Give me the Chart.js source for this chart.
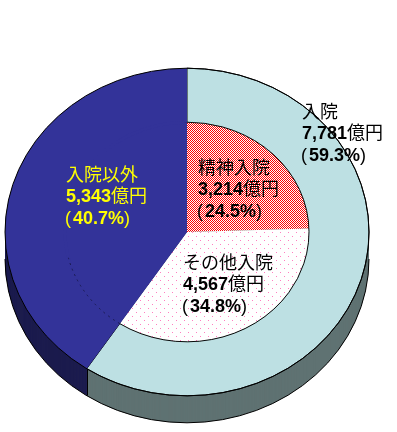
<!DOCTYPE html>
<html>
<head>
<meta charset="utf-8">
<script src="https://cdn.jsdelivr.net/npm/chart.js@4.4.1/dist/chart.umd.min.js"></script>
<style>
  html, body { margin: 0; padding: 0; background: #fff; }
  #pie { display: block; }
</style>
</head>
<body>
<canvas id="pie" width="397" height="432"></canvas>
<script>
// ---- data (億円) ----
const outerLabels = ['入院', '入院以外'];
const outerValues = [7781, 5343];
const outerPct = ['59.3%', '40.7%'];

const innerLabels = ['精神入院', 'その他入院', '入院以外'];
const innerValues = [3214, 4567, 5343];
const innerPct = ['24.5%', '34.8%', '40.7%'];

// ---- look ----
const SQUASH = 0.9;   // vertical squash of the pie top
const DEPTH = 27;     // thickness of the 3D side
const LIGHT = '#bde0e3';
const NAVY = '#333399';
const sideColors = ['#5f7272', '#1c1c4e'];

function makePattern(size, bg, fg, dots) {
    const c = document.createElement('canvas');
    c.width = c.height = size;
    const g = c.getContext('2d');
    g.fillStyle = bg;
    g.fillRect(0, 0, size, size);
    g.fillStyle = fg;
    dots.forEach(([x, y]) => g.fillRect(x, y, 1, 1));
    return g.createPattern(c, 'repeat');
}

// red/white checker and white with pink dots
const redCheck = makePattern(2, '#ffffff', '#ff0000', [[0, 0], [1, 1]]);
const pinkDots = makePattern(8, '#ffffff', '#ff80c0', [[0, 0], [4, 4]]);

// label placement: [x, y of first line], plus colours
const outerLabelPos = [[302, 111], [66, 174]];
const outerLabelColor = ['#000000', '#ffff00'];
const innerLabelPos = [[198, 167], [183, 262]];
const LINE_GAP = 21;

function drawParts(ctx, x, y, parts, color) {
    ctx.fillStyle = color;
    ctx.textBaseline = 'alphabetic';
    parts.forEach(([t, kind]) => {
        if (kind === 'b') ctx.font = 'bold 18px "Liberation Sans", Arial, sans-serif';
        else if (kind === 'p') ctx.font = '18px "Liberation Sans", Arial, sans-serif';
        else ctx.font = '18px "Noto Sans CJK JP", sans-serif';
        ctx.fillText(t, x, y + 6.5);
        x += ctx.measureText(t).width + (kind === 'p' ? 2 : 0);
    });
}

function drawLabel(ctx, pos, name, value, pct, color) {
    const [x, y] = pos;
    drawParts(ctx, x, y, [[name, 'k']], color);
    drawParts(ctx, x, y + LINE_GAP, [[value.toLocaleString('en-US'), 'b'], ['億円', 'k']], color);
    drawParts(ctx, x - 1, y + LINE_GAP * 2 + 1, [['(', 'p'], [pct, 'b'], [')', 'p']], color);
}

const pie3d = {
    id: 'pie3d',
    beforeDatasetsDraw(chart) {
        const ctx = chart.ctx;
        const arcs = chart.getDatasetMeta(0).data;
        const { x, y, outerRadius: R } = arcs[0];

        // keep the fill patterns on the device pixel grid under the squash
        const m = new DOMMatrix([1, 0, 0, 1 / SQUASH, 0, -(1 - SQUASH) * y / SQUASH]);
        redCheck.setTransform(m);
        pinkDots.setTransform(m);

        ctx.save();
        ctx.imageSmoothingEnabled = false;

        // side walls
        for (let d = DEPTH; d >= 1; d--) {
            arcs.forEach((a, i) => {
                ctx.beginPath();
                ctx.moveTo(x, y + d);
                ctx.ellipse(x, y + d, R, R * SQUASH, 0, a.startAngle, a.endAngle);
                ctx.closePath();
                ctx.fillStyle = sideColors[i];
                ctx.fill();
            });
        }
        ctx.strokeStyle = '#000';
        ctx.lineWidth = 1;
        ctx.beginPath();
        ctx.ellipse(x, y + DEPTH, R, R * SQUASH, 0, 0, Math.PI);
        ctx.stroke();
        arcs.forEach(a => {
            if (Math.sin(a.startAngle) > 0) {
                const px = Math.round(x + R * Math.cos(a.startAngle)) + 0.5;
                const py = y + R * SQUASH * Math.sin(a.startAngle);
                ctx.beginPath();
                ctx.moveTo(px, py);
                ctx.lineTo(px, py + DEPTH);
                ctx.stroke();
            }
        });

        // squash the pie top into an ellipse
        ctx.translate(x, y);
        ctx.scale(1, SQUASH);
        ctx.translate(-x, -y);
    },
    afterDatasetsDraw(chart) {
        const ctx = chart.ctx;
        ctx.restore();
        const arcs = chart.getDatasetMeta(0).data;
        const inner = chart.getDatasetMeta(1).data;
        const { x, y, outerRadius: R } = arcs[0];

        ctx.save();
        // cover the seam between the two navy pieces
        const r = inner[2].outerRadius;
        const a0 = inner[2].startAngle;
        const a1 = inner[2].endAngle;
        ctx.strokeStyle = NAVY;
        ctx.lineWidth = 3;
        ctx.beginPath();
        ctx.ellipse(x, y, r, r * SQUASH, 0, a0 + 0.02, a1 - 0.02);
        ctx.stroke();

        // faint trace of the inner circle inside the navy slice
        ctx.strokeStyle = '#1a1a50';
        ctx.lineWidth = 1;
        ctx.setLineDash([2, 4]);
        ctx.beginPath();
        ctx.ellipse(x, y, r, r * SQUASH, 0, a0, a0 + 0.75);
        ctx.stroke();
        ctx.setLineDash([]);

        ctx.strokeStyle = '#000';
        ctx.beginPath();
        ctx.ellipse(x, y, R, R * SQUASH, 0, 0, Math.PI * 2);
        ctx.stroke();
        ctx.restore();
    },
    afterDraw(chart) {
        const ctx = chart.ctx;
        outerLabels.forEach((name, i) => {
            drawLabel(ctx, outerLabelPos[i], name, outerValues[i], outerPct[i], outerLabelColor[i]);
        });
        innerLabelPos.forEach((pos, i) => {
            drawLabel(ctx, pos, innerLabels[i], innerValues[i], innerPct[i], '#000000');
        });
    }
};

new Chart(document.getElementById('pie'), {
    type: 'doughnut',
    data: {
        labels: innerLabels,
        datasets: [{
            label: '入院／入院以外',
            data: outerValues,
            backgroundColor: [LIGHT, NAVY],
            borderColor: ['#000000', NAVY],
            borderWidth: [1, 0],
            weight: 60
        }, {
            label: '内訳',
            data: innerValues,
            backgroundColor: [redCheck, pinkDots, NAVY],
            borderWidth: 0,
            weight: 122
        }]
    },
    options: {
        responsive: false,
        animation: false,
        devicePixelRatio: 1,
        cutout: 0,
        radius: 182,
        layout: { padding: { left: 5, right: 28, top: 50, bottom: 18 } },
        plugins: {
            legend: { display: false },
            tooltip: { enabled: false }
        }
    },
    plugins: [pie3d]
});
</script>
</body>
</html>
